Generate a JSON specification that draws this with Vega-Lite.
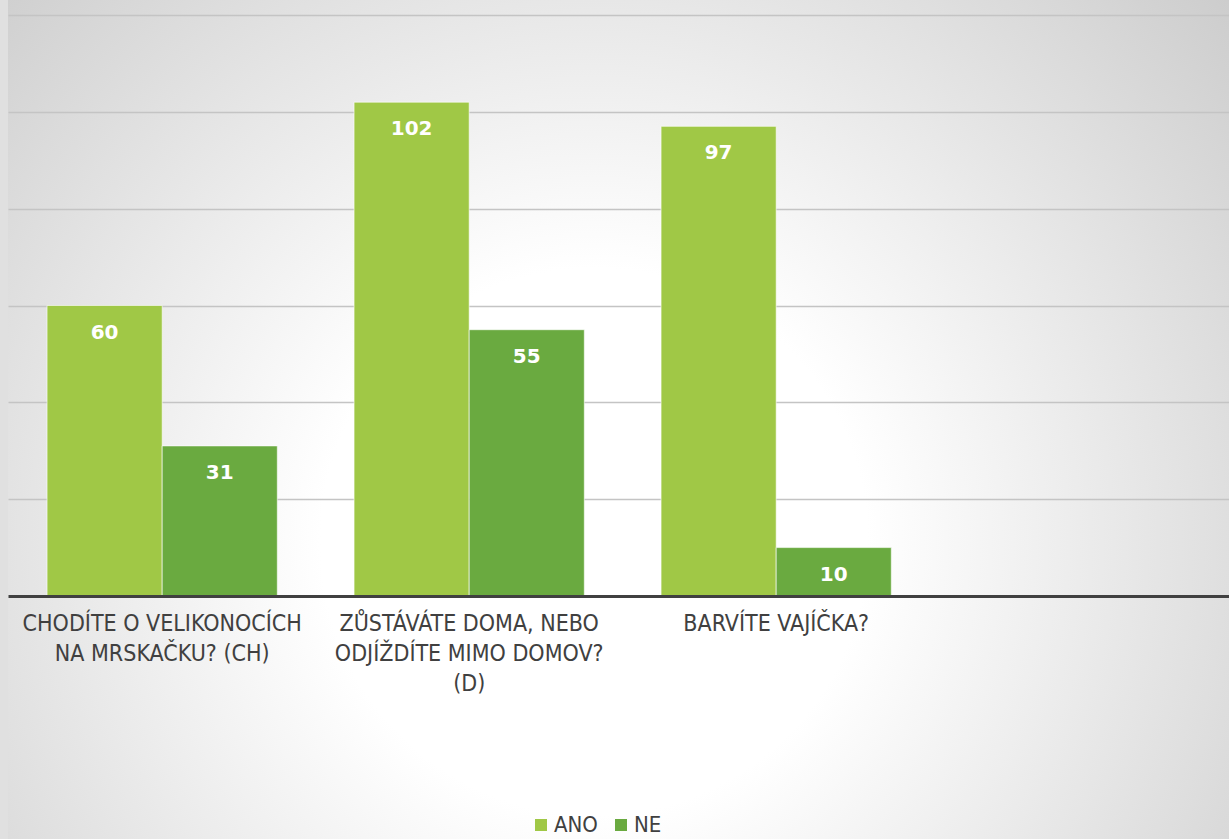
{
  "$schema": "https://vega.github.io/schema/vega-lite/v6.json",
  "autosize": {"type": "none"},
  "width": 1221,
  "height": 839,
  "padding": {"left": 8, "top": 0, "right": 0, "bottom": 0},
  "background": "#e0e0e0",
  "config": {
    "view": {
      "stroke": null,
      "fill": {
        "gradient": "radial",
        "x1": 0.48, "y1": 0.6, "r1": 0,
        "x2": 0.48, "y2": 0.6, "r2": 0.7,
        "stops": [
          {"offset": 0, "color": "#ffffff"},
          {"offset": 0.32, "color": "#ffffff"},
          {"offset": 1, "color": "#cbcbcb"}
        ]
      }
    },
    "font": "DejaVu Sans Condensed, Liberation Sans Narrow, sans-serif"
  },
  "data": {
    "values": [
      {"otazka": "CHODÍTE O VELIKONOCÍCH|NA MRSKAČKU? (CH)", "odpoved": "ANO", "pocet": 60},
      {"otazka": "CHODÍTE O VELIKONOCÍCH|NA MRSKAČKU? (CH)", "odpoved": "NE", "pocet": 31},
      {"otazka": "ZŮSTÁVÁTE DOMA, NEBO|ODJÍŽDÍTE MIMO DOMOV?|(D)", "odpoved": "ANO", "pocet": 102},
      {"otazka": "ZŮSTÁVÁTE DOMA, NEBO|ODJÍŽDÍTE MIMO DOMOV?|(D)", "odpoved": "NE", "pocet": 55},
      {"otazka": "BARVÍTE VAJÍČKA?", "odpoved": "ANO", "pocet": 97},
      {"otazka": "BARVÍTE VAJÍČKA?", "odpoved": "NE", "pocet": 10}
    ]
  },
  "encoding": {
    "x": {
      "field": "otazka",
      "type": "nominal",
      "sort": null,
      "scale": {
        "domain": [
          "CHODÍTE O VELIKONOCÍCH|NA MRSKAČKU? (CH)",
          "ZŮSTÁVÁTE DOMA, NEBO|ODJÍŽDÍTE MIMO DOMOV?|(D)",
          "BARVÍTE VAJÍČKA?",
          " "
        ],
        "paddingInner": 0.25,
        "paddingOuter": 0.1136,
        "align": 0.56
      },
      "axis": {
        "title": null,
        "orient": "bottom",
        "offset": -243,
        "labelAngle": 0,
        "labelExpr": "split(datum.label, '|')",
        "labelFontSize": 23,
        "labelColor": "#404040",
        "labelLineHeight": 30,
        "labelPadding": 16,
        "labelLimit": 400,
        "ticks": false,
        "domainColor": "#404040",
        "domainWidth": 3,
        "grid": false,
        "zindex": 2
      }
    },
    "xOffset": {
      "field": "odpoved",
      "type": "nominal",
      "scale": {"paddingInner": 0, "paddingOuter": 0}
    },
    "y": {
      "field": "pocet",
      "type": "quantitative",
      "scale": {"domain": [-50.19, 123.1], "nice": false, "zero": false},
      "axis": {
        "title": null,
        "values": [20, 40, 60, 80, 100, 120],
        "labels": false,
        "ticks": false,
        "domain": false,
        "grid": true,
        "gridColor": "#c4c4c4",
        "gridWidth": 1.5
      }
    }
  },
  "layer": [
    {
      "mark": {"type": "bar", "stroke": "#ffffff", "strokeOpacity": 0.6, "strokeWidth": 1},
      "encoding": {
        "y2": {"datum": 0},
        "color": {
          "field": "odpoved",
          "type": "nominal",
          "scale": {"domain": ["ANO", "NE"], "range": ["#a0c846", "#6aaa40"]},
          "legend": {
            "title": null,
            "orient": "none",
            "direction": "horizontal",
            "legendX": 522,
            "legendY": 814,
            "symbolType": "square",
            "symbolSize": 144,
            "symbolStrokeWidth": 0,
            "labelFontSize": 22,
            "labelColor": "#404040",
            "labelOffset": 2,
            "columnPadding": 12
          }
        }
      }
    },
    {
      "mark": {
        "type": "text",
        "color": "#ffffff",
        "fontWeight": "bold",
        "fontSize": 20,
        "font": "DejaVu Sans",
        "baseline": "middle",
        "dy": 27
      },
      "encoding": {
        "text": {"field": "pocet", "type": "quantitative"}
      }
    }
  ]
}
